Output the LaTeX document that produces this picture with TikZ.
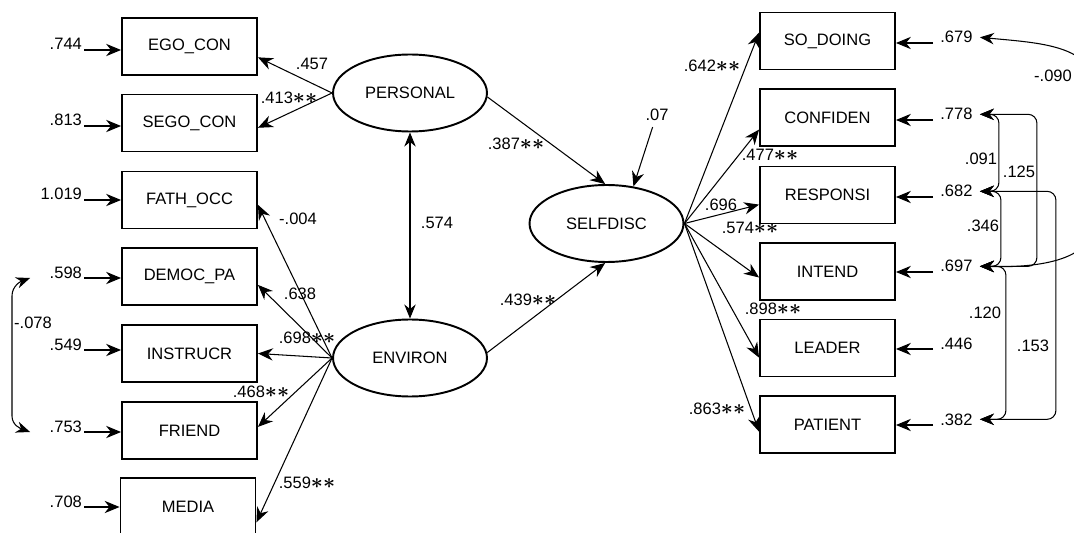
\documentclass[tikz,border=0pt]{standalone}
\usepackage{fontspec}
\setmainfont{Liberation Sans}
\usetikzlibrary{shapes.geometric,arrows.meta}
\newcommand{\sig}{{\fontsize{11.5}{12}\selectfont\boldmath$\ast\ast$}}

\begin{document}
\begin{tikzpicture}[x=0.02cm,y=-0.02cm,font=\fontsize{9.4}{10}\selectfont,
  obs/.style={draw,line width=1.1pt,minimum width=2.7cm,minimum height=1.14cm,inner sep=0pt},
  lat/.style={draw,ellipse,line width=1.1pt,minimum width=3.08cm,minimum height=1.54cm,inner sep=0pt},
  errl/.style={anchor=base east,inner sep=1pt},
  errr/.style={anchor=base west,inner xsep=4pt,inner ysep=1pt},
  arr/.style={-{Stealth[length=8.5pt,width=7pt]},line width=0.6pt},
  cov/.style={{Stealth[length=8pt,width=6.5pt]}-{Stealth[length=8pt,width=6.5pt]},line width=0.6pt}]
\useasboundingbox (0,0) rectangle (1074,533);
\clip (0,0) rectangle (1074,533);
%\node {\includegraphics{sem.png}};
% left side
\node[obs] (ego) at (189.5,46.5) {EGO\_CON};
\node[obs] (sego) at (189.5,123) {SEGO\_CON};
\node[obs] (fath) at (189.5,200) {FATH\_OCC};
\node[obs] (democ) at (189.5,276.5) {DEMOC\_PA};
\node[obs] (instr) at (189.5,353.5) {INSTRUCR};
\node[obs] (friend) at (189.5,430.5) {FRIEND};
\node[obs] (media) at (188,506.5) {MEDIA};
\node[errl] (l1) at (84,50) {.744};
\node[errl] (l2) at (84,126) {.813};
\node[errl] (l3) at (84,200) {1.019};
\node[errl] (l4) at (84,278) {.598};
\node[errl] (l5) at (84,350) {.549};
\node[errl] (l6) at (84,432) {.753};
\node[errl] (l7) at (84,507) {.708};
\draw[arr] (l1.base east) -- (l1.base east -| ego.west);
\draw[arr] (l2.base east) -- (l2.base east -| sego.west);
\draw[arr] (l3.base east) -- (l3.base east -| fath.west);
\draw[arr] (l4.base east) -- (l4.base east -| democ.west);
\draw[arr] (l5.base east) -- (l5.base east -| instr.west);
\draw[arr] (l6.base east) -- (l6.base east -| friend.west);
\draw[arr] (l7.base east) -- (l7.base east -| media.west);
\draw[cov] ([xshift=-10pt]l4.base west) to[out=200,in=90] (12,296) -- (12,416) to[out=-90,in=160] ([xshift=-10pt]l6.base west);
\node (k8) at (33,323) {-.078};
% latent variables
\node[lat] (personal) at (410,93) {PERSONAL};
\node[lat] (environ) at (410,358) {ENVIRON};
\node[lat] (selfdisc) at (606.5,223.5) {SELFDISC};
\draw[arr] (personal.west) -- (ego.-9);
\draw[arr] (personal.west) -- (sego.-4);
\draw[arr] (environ.west) -- (fath.-4);
\draw[arr] (environ.west) -- (democ.-7);
\draw[arr] (environ.west) -- (instr.east);
\draw[arr] (environ.west) -- (friend.3);
\draw[arr] (environ.west) -- (media.-13);
\node (k1) at (312,64) {.457};
\node (k2) at (289,98) {.413\sig};
\node (k3) at (298,219) {-.004};
\node (k4) at (300,294) {.638};
\node (k5) at (307,338) {.698\sig};
\node (k6) at (261,392) {.468\sig};
\node (k7) at (307,483) {.559\sig};
\draw[cov] (personal.south) -- (environ.north);
\node (k9) at (437,223) {.574};
\draw[arr] (personal.-3) -- (selfdisc.92);
\draw[arr] (environ.4) -- (selfdisc.-92);
\node (k10) at (516,144) {.387\sig};
\node (k11) at (528,300) {.439\sig};
\node (d1) at (657,115) {.07};
\draw[arr] (d1.-110) -- (selfdisc.54);
% right side
\node[obs] (sodo) at (827.5,41) {SO\_DOING};
\node[obs] (conf) at (827.5,117.5) {CONFIDEN};
\node[obs] (resp) at (827.5,195) {RESPONSI};
\node[obs] (intend) at (827.5,271.5) {INTEND};
\node[obs] (leader) at (827.5,348) {LEADER};
\node[obs] (patient) at (827.5,424.5) {PATIENT};
\draw[arr] (selfdisc.east) -- (sodo.173);
\draw[arr] (selfdisc.east) -- (conf.190);
\draw[arr] (selfdisc.east) -- (resp.188);
\draw[arr] (selfdisc.east) -- (intend.185);
\draw[arr] (selfdisc.east) -- (leader.188);
\draw[arr] (selfdisc.east) -- (patient.186);
\node (k12) at (712,66) {.642\sig};
\node (k13) at (770,155) {.477\sig};
\node (k14) at (721,205) {.696};
\node (k15) at (750,228) {.574\sig};
\node (k16) at (773,309) {.898\sig};
\node (k17) at (717,409) {.863\sig};
\node[errr] (r1) at (933,43) {.679};
\node[errr] (r2) at (933,120) {.778};
\node[errr] (r3) at (933,197) {.682};
\node[errr] (r4) at (933,272) {.697};
\node[errr] (r5) at (933,349) {.446};
\node[errr] (r6) at (933,425) {.382};
\draw[arr] (r1.base west) -- (r1.base west -| sodo.east);
\draw[arr] (r2.base west) -- (r2.base west -| conf.east);
\draw[arr] (r3.base west) -- (r3.base west -| resp.east);
\draw[arr] (r4.base west) -- (r4.base west -| intend.east);
\draw[arr] (r5.base west) -- (r5.base west -| leader.east);
\draw[arr] (r6.base west) -- (r6.base west -| patient.east);
% error covariances
\draw[cov,rounded corners=5pt] (r2.east) -- ++(19,0) |- (r3.east);
\draw[cov,rounded corners=5pt] (r2.east) -- ++(57,0) |- (r4.east);
\draw[cov,rounded corners=5pt] (r3.east) -- ++(21,0) |- (r4.east);
\draw[cov,rounded corners=5pt] (r3.east) -- ++(76,0) |- (r6.east);
\draw[cov,rounded corners=5pt] (r4.east) -- ++(26,0) |- (r6.east);
\draw[cov] (r1.east) .. controls (1040,43) and (1095,45) .. (1095,90) -- (1095,220) .. controls (1095,260) and (1040,268) .. (r4.east);
\node (k18) at (981,159) {.091};
\node (k19) at (1019,172) {.125};
\node (k20) at (983,226) {.346};
\node (k21) at (985,313) {.120};
\node (k22) at (1033,346) {.153};
\node (k23) at (1053,76) {-.090};
\end{tikzpicture}
\end{document}
